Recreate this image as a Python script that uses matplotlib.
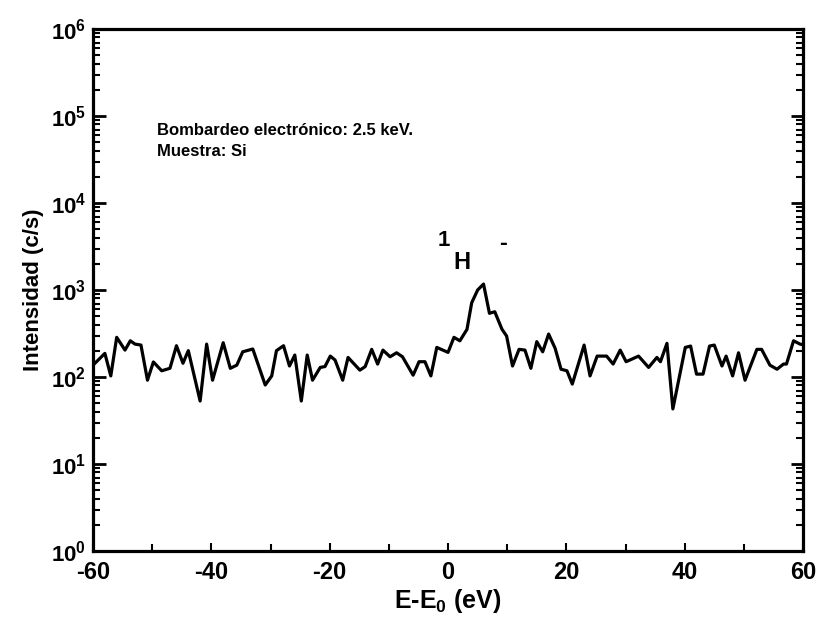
import numpy as np
import matplotlib
matplotlib.use("Agg")
import matplotlib.pyplot as plt
from matplotlib.ticker import FixedLocator, LogLocator, MultipleLocator, FuncFormatter

plt.rcParams['font.family'] = ['Liberation Sans', 'DejaVu Sans']
plt.rcParams['font.weight'] = 'bold'
plt.rcParams['mathtext.fontset'] = 'custom'
plt.rcParams['mathtext.rm'] = 'Liberation Sans:bold'
plt.rcParams['mathtext.it'] = 'Liberation Sans:bold'
plt.rcParams['mathtext.bf'] = 'Liberation Sans:bold'

# Energy offset E-E0 (eV)
energy = [
    -60.0, -58.0, -57.0, -56.0, -54.6, -53.7, -52.9, -51.9, -50.8, -49.8,
    -48.4, -47.0, -45.9, -44.8, -43.9, -41.9, -40.8, -39.8, -38.0, -36.8,
    -35.7, -34.7, -33.0, -30.9, -29.8, -29.0, -27.8, -26.8, -25.9, -24.8,
    -23.8, -22.9, -21.6, -20.8, -19.9, -19.1, -17.8, -16.9, -14.9, -14.0,
    -12.9, -11.9, -11.0, -9.8, -8.7, -7.7, -5.9, -4.9, -3.9, -2.9,
    -1.9, 0.0, 1.0, 2.0, 3.2, 4.0, 5.0, 6.0, 7.0, 7.9,
    9.1, 9.9, 10.9, 12.0, 13.0, 14.0, 15.0, 16.0, 17.0, 18.1,
    19.1, 20.1, 21.0, 23.0, 24.0, 25.2, 26.8, 27.9, 29.1, 30.1,
    32.2, 33.9, 35.3, 35.9, 37.0, 38.0, 40.1, 41.0, 42.0, 43.1,
    44.2, 45.0, 46.3, 47.0, 48.1, 49.1, 50.2, 52.2, 53.0, 54.4,
    55.6, 56.7, 57.2, 58.4, 59.5, 60.0,
]

# Intensity (c/s)
intensity = [
    137, 187, 103, 286, 204, 261, 239, 233, 92, 149,
    118, 126, 229, 144, 201, 53, 239, 92, 248, 126,
    137, 195, 210, 81, 103, 201, 229, 134, 179, 53,
    179, 92, 129, 132, 174, 157, 92, 168, 120, 132,
    208, 141, 204, 171, 190, 171, 105, 150, 150, 103,
    219, 192, 286, 261, 353, 714, 1000, 1172, 540, 563,
    356, 296, 134, 208, 204, 126, 255, 195, 312, 214,
    123, 118, 83, 233, 103, 174, 174, 141, 204, 150,
    174, 129, 168, 150, 244, 43, 219, 227, 108, 108,
    227, 233, 134, 174, 103, 190, 92, 208, 208, 137,
    123, 141, 141, 261, 239, 235,
]

x_ticks = [-60, -40, -20, 0, 20, 40, 60]
y_ticks = [1e0, 1e1, 1e2, 1e3, 1e4, 1e5, 1e6]


def main():
    fig = plt.figure(figsize=(8.19, 6.22), dpi=100)
    ax = fig.add_axes([0.1136, 0.1141, 0.8669, 0.8392])

    ax.plot(energy, intensity, color='black', linewidth=2.3)

    ax.set_yscale('log')
    ax.set_xlim(-60, 60)
    ax.set_ylim(1e0, 1e6)

    ax.xaxis.set_major_locator(FixedLocator(x_ticks))
    ax.xaxis.set_minor_locator(MultipleLocator(10))
    ax.yaxis.set_major_locator(FixedLocator(y_ticks))
    ax.yaxis.set_minor_locator(LogLocator(base=10, subs=np.arange(2, 10), numticks=20))
    ax.yaxis.set_major_formatter(FuncFormatter(lambda v, p: r'$10^{%d}$' % int(round(np.log10(v)))))
    ax.xaxis.set_major_formatter(FuncFormatter(lambda v, p: '%d' % v))

    ax.tick_params(axis='y', which='major', direction='in', length=9, width=2,
                   right=True, labelsize=16, pad=5)
    ax.tick_params(axis='y', which='minor', direction='in', length=5, width=1.5, right=True)
    ax.tick_params(axis='x', which='major', direction='in', length=6, width=1.5,
                   top=False, labelsize=17, pad=7)
    ax.tick_params(axis='x', which='minor', direction='in', length=5, width=1.5, top=False)

    for spine in ax.spines.values():
        spine.set_linewidth(2.3)

    ax.set_xlabel(r'E-E$_0$ (eV)', fontsize=18, fontweight='bold', labelpad=2)
    ax.set_ylabel('Intensidad (c/s)', fontsize=16, fontweight='bold', labelpad=5)

    ax.text(0.09, 0.805, 'Bombardeo electrónico: 2.5 keV.', transform=ax.transAxes,
            fontsize=12, fontweight='bold', va='center')
    ax.text(0.09, 0.765, 'Muestra: Si', transform=ax.transAxes,
            fontsize=12, fontweight='bold', va='center')

    ax.text(0.494, 0.594, '1', transform=ax.transAxes, fontsize=16,
            fontweight='bold', ha='center', va='center')
    ax.text(0.519, 0.552, 'H', transform=ax.transAxes, fontsize=17,
            fontweight='bold', ha='center', va='center')
    ax.text(0.577, 0.590, '-', transform=ax.transAxes, fontsize=17,
            fontweight='bold', ha='center', va='center')

    fig.savefig('out.png', dpi=100)
    plt.close(fig)


if __name__ == "__main__":
    main()
